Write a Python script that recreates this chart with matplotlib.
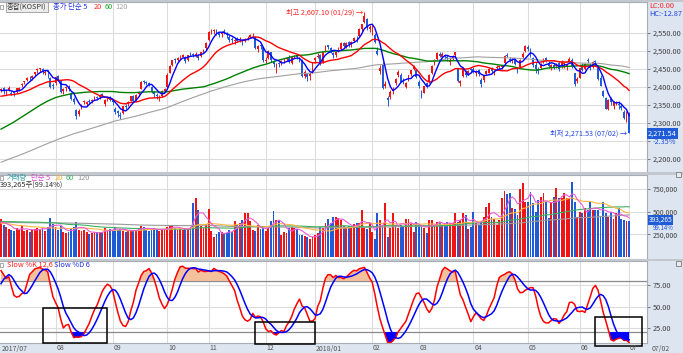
import numpy as np
import pandas as pd
import matplotlib
matplotlib.use("Agg")
import matplotlib.pyplot as plt
from matplotlib.patches import Rectangle

plt.rcParams["font.family"] = ["Noto Sans CJK KR", "DejaVu Sans"]

# KOSPI 2017/01 - 2017/06, only used to warm up the averages / stochastic
hist_close = [
    2026, 2043, 2045, 2042, 2049, 2048, 2045, 2075, 2087, 2076, 2064, 2071, 2072, 2069, 2065, 2064, 2074, 2083, 2083, 2067,
    2081, 2077, 2073, 2065, 2070, 2075, 2068, 2074, 2077, 2081, 2074, 2080, 2080, 2089, 2102, 2107, 2107, 2094, 2085, 2091,
    2102, 2078, 2078, 2094, 2095, 2092, 2097, 2117, 2133, 2133, 2150, 2164, 2157, 2178, 2168, 2168, 2168, 2154, 2166, 2165, 2166, 2160,
    2167, 2160, 2160, 2152, 2135, 2133, 2123, 2131, 2134, 2134, 2145, 2150, 2148, 2163, 2165, 2175, 2196, 2207, 2209, 2205,
    2219, 2241, 2292, 2270, 2296, 2286, 2296, 2295, 2293, 2287, 2288, 2304, 2311, 2317, 2342, 2355, 2345, 2347, 2347,
    2371, 2371, 2368, 2364, 2363, 2381, 2360, 2374, 2369, 2361, 2361, 2371, 2370, 2357, 2370, 2378, 2388, 2391, 2382, 2395, 2391,
]
hist_volume = [  # thousand x 1000 shares
    380, 410, 390, 360, 350, 340, 370, 420, 400, 380, 360, 350, 330, 360, 340, 320, 340, 360, 350, 330,
    360, 380, 350, 330, 340, 360, 350, 370, 340, 330, 350, 360, 340, 380, 420, 400, 380, 360, 350, 340,
    380, 400, 360, 350, 370, 360, 380, 420, 450, 430, 460, 480, 420, 440, 400, 390, 380, 370, 390, 380, 360, 370,
    380, 360, 350, 340, 330, 360, 380, 390, 350, 340, 320, 310, 330, 340, 320, 350, 420, 440, 400, 380,
    420, 460, 520, 500, 480, 460, 440, 420, 400, 410, 380, 400, 420, 430, 480, 520, 450, 430, 420,
    410, 390, 380, 370, 360, 420, 400, 390, 370, 360, 350, 360, 370, 350, 340, 330, 360, 380, 370, 390, 360,
]

# 2017/07/03 - 2018/07/02 daily candles
opens = [
    2392, 2396, 2388, 2393, 2384, 2385, 2386, 2392, 2406, 2415, 2420, 2426, 2426, 2435, 2446, 2451, 2451, 2438, 2445, 2425, 2404,
    2410, 2430, 2418, 2390, 2396, 2400, 2383, 2368, 2336, 2325, 2345, 2358, 2352, 2362, 2360, 2370, 2372, 2372, 2380, 2352, 2366, 2372,
    2364, 2340, 2332, 2322, 2328, 2348, 2352, 2362, 2376, 2364, 2380, 2395, 2416, 2414, 2410, 2400, 2385, 2378, 2370, 2376, 2390,
    2400, 2440, 2462, 2478, 2476, 2482, 2484, 2482, 2476, 2492, 2492, 2490, 2488, 2486, 2500, 2508,
    2530, 2555, 2556, 2558, 2550, 2546, 2555, 2550, 2540, 2534, 2528, 2532, 2530, 2530, 2528, 2536, 2540, 2544, 2540, 2506, 2516, 2510,
    2472, 2480, 2496, 2470, 2460, 2466, 2468, 2474, 2478, 2482, 2468, 2484, 2488, 2480, 2476, 2430, 2436, 2430, 2442,
    2474, 2484, 2490, 2470, 2500, 2516, 2508, 2495, 2490, 2500, 2506, 2522, 2512, 2524, 2520, 2528, 2540, 2542, 2560, 2580, 2590, 2560,
    2568, 2545, 2500, 2445, 2464, 2404, 2370, 2372, 2392, 2410, 2432, 2434, 2418, 2400, 2420, 2436, 2450, 2446,
    2415, 2385, 2384, 2410, 2414, 2440, 2465, 2478, 2492, 2484, 2488, 2484, 2470, 2480, 2488, 2450, 2410, 2430, 2440, 2440, 2450,
    2450, 2440, 2446, 2420, 2420, 2436, 2440, 2452, 2440, 2452, 2456, 2456, 2466, 2490, 2478, 2472, 2476, 2450, 2456, 2484, 2500,
    2512, 2504, 2480, 2462, 2450, 2454, 2470, 2480, 2468, 2456, 2462, 2458, 2466, 2456, 2464, 2456, 2470, 2476, 2438, 2418,
    2426, 2460, 2450, 2474, 2462, 2456, 2472, 2452, 2426, 2390, 2370, 2340, 2366, 2348, 2356, 2354, 2346, 2330, 2306,
    2328,
]
highs = [
    2398, 2400, 2392, 2402, 2390, 2388, 2398, 2400, 2412, 2418, 2428, 2430, 2432, 2443, 2452, 2454, 2453, 2446, 2447, 2428, 2410,
    2430, 2434, 2420, 2398, 2402, 2405, 2387, 2372, 2340, 2340, 2352, 2365, 2362, 2366, 2368, 2375, 2376, 2380, 2384, 2366, 2372, 2374,
    2368, 2345, 2336, 2330, 2348, 2352, 2362, 2376, 2378, 2380, 2388, 2416, 2420, 2418, 2414, 2404, 2390, 2384, 2378, 2392, 2398,
    2438, 2460, 2476, 2480, 2484, 2488, 2492, 2486, 2490, 2496, 2494, 2496, 2490, 2498, 2506, 2526,
    2555, 2562, 2560, 2562, 2554, 2556, 2562, 2552, 2544, 2538, 2536, 2540, 2538, 2534, 2536, 2542, 2548, 2550, 2542, 2518, 2520, 2512,
    2484, 2504, 2498, 2474, 2468, 2470, 2476, 2480, 2484, 2488, 2484, 2490, 2492, 2484, 2478, 2446, 2440, 2442, 2470,
    2482, 2494, 2492, 2498, 2516, 2518, 2512, 2498, 2498, 2510, 2524, 2526, 2524, 2528, 2528, 2538, 2542, 2564, 2576, 2607.10, 2592, 2572,
    2572, 2550, 2510, 2460, 2470, 2418, 2375, 2392, 2400, 2424, 2446, 2438, 2424, 2414, 2434, 2448, 2460, 2450,
    2420, 2392, 2404, 2414, 2436, 2460, 2478, 2496, 2496, 2496, 2492, 2488, 2480, 2490, 2498, 2454, 2420, 2456, 2446, 2448, 2452,
    2456, 2446, 2450, 2424, 2432, 2448, 2454, 2456, 2448, 2460, 2462, 2462, 2488, 2494, 2484, 2480, 2478, 2456, 2478, 2496, 2518,
    2518, 2508, 2484, 2470, 2456, 2466, 2480, 2484, 2472, 2464, 2466, 2466, 2472, 2474, 2470, 2464, 2482, 2480, 2440, 2428,
    2454, 2466, 2466, 2480, 2466, 2472, 2474, 2456, 2432, 2392, 2372, 2366, 2372, 2362, 2362, 2360, 2352, 2336, 2332,
    2330,
]
lows = [
    2385, 2380, 2378, 2388, 2377, 2375, 2384, 2388, 2400, 2408, 2418, 2420, 2420, 2430, 2440, 2442, 2436, 2434, 2425, 2398, 2394,
    2405, 2418, 2384, 2380, 2390, 2390, 2365, 2352, 2310, 2320, 2340, 2352, 2348, 2352, 2356, 2364, 2364, 2366, 2372, 2346, 2360, 2360,
    2350, 2325, 2318, 2311, 2326, 2338, 2348, 2360, 2358, 2360, 2374, 2394, 2408, 2405, 2402, 2384, 2372, 2368, 2362, 2372, 2386,
    2398, 2438, 2458, 2468, 2470, 2476, 2482, 2468, 2472, 2486, 2484, 2484, 2476, 2482, 2494, 2504,
    2528, 2548, 2546, 2545, 2540, 2540, 2548, 2536, 2526, 2522, 2520, 2526, 2526, 2518, 2524, 2530, 2538, 2538, 2506, 2498, 2505, 2470,
    2466, 2478, 2470, 2455, 2440, 2456, 2462, 2468, 2472, 2466, 2464, 2480, 2478, 2470, 2428, 2426, 2418, 2420, 2440,
    2468, 2480, 2462, 2468, 2498, 2505, 2495, 2480, 2484, 2496, 2504, 2512, 2508, 2512, 2512, 2524, 2526, 2540, 2556, 2578, 2558, 2552,
    2545, 2522, 2488, 2436, 2394, 2396, 2346, 2366, 2380, 2405, 2428, 2414, 2408, 2396, 2416, 2430, 2448, 2426,
    2398, 2370, 2382, 2396, 2410, 2436, 2460, 2474, 2482, 2480, 2478, 2472, 2462, 2476, 2484, 2414, 2404, 2428, 2428, 2434, 2440,
    2440, 2430, 2430, 2400, 2414, 2432, 2438, 2440, 2432, 2448, 2448, 2450, 2464, 2482, 2470, 2466, 2460, 2440, 2454, 2480, 2496,
    2500, 2484, 2456, 2440, 2436, 2450, 2466, 2470, 2452, 2448, 2450, 2454, 2444, 2454, 2454, 2448, 2466, 2454, 2404, 2410,
    2424, 2444, 2446, 2466, 2446, 2452, 2460, 2420, 2402, 2372, 2338, 2336, 2350, 2340, 2350, 2340, 2336, 2310, 2304,
    2271.53,
]
closes = [
    2394, 2388, 2388, 2396, 2380, 2382, 2396, 2396, 2409, 2415, 2425, 2425, 2430, 2442, 2450, 2452, 2441, 2443, 2443, 2401, 2403,
    2428, 2422, 2387, 2395, 2399, 2395, 2368, 2359, 2320, 2334, 2348, 2362, 2358, 2358, 2365, 2371, 2370, 2379, 2375, 2365, 2370, 2363,
    2358, 2330, 2327, 2320, 2346, 2344, 2359, 2374, 2360, 2378, 2386, 2415, 2413, 2412, 2407, 2389, 2380, 2374, 2373, 2389, 2394,
    2434, 2458, 2475, 2474, 2480, 2484, 2490, 2472, 2489, 2490, 2490, 2493, 2481, 2497, 2502, 2523,
    2553, 2556, 2558, 2549, 2545, 2552, 2551, 2543, 2530, 2530, 2531, 2528, 2534, 2527, 2533, 2537, 2544, 2545, 2508, 2514, 2513, 2476,
    2475, 2501, 2474, 2464, 2462, 2464, 2471, 2475, 2481, 2469, 2482, 2487, 2482, 2479, 2430, 2441, 2427, 2437, 2467,
    2480, 2486, 2466, 2498, 2513, 2510, 2500, 2488, 2496, 2504, 2522, 2515, 2522, 2520, 2525, 2537, 2538, 2562, 2575, 2598, 2563, 2566,
    2569, 2525, 2492, 2453, 2397, 2408, 2364, 2385, 2395, 2422, 2443, 2415, 2414, 2410, 2433, 2446, 2456, 2427,
    2402, 2375, 2402, 2404, 2433, 2459, 2475, 2494, 2486, 2493, 2486, 2480, 2476, 2485, 2496, 2417, 2416, 2454, 2434, 2444, 2446,
    2444, 2442, 2437, 2408, 2430, 2444, 2451, 2444, 2442, 2455, 2456, 2457, 2487, 2486, 2476, 2474, 2464, 2449, 2476, 2492, 2515,
    2506, 2487, 2461, 2450, 2444, 2464, 2478, 2476, 2459, 2460, 2455, 2461, 2451, 2471, 2467, 2461, 2479, 2457, 2409, 2423,
    2452, 2448, 2464, 2471, 2452, 2470, 2469, 2423, 2404, 2376, 2340, 2364, 2357, 2358, 2357, 2350, 2342, 2314, 2326.13,
    2271.54,
]
volume = [  # thousand x 1000 shares
    418, 352, 330, 310, 300, 290, 320, 300, 340, 290, 300, 280, 300, 310, 320, 300, 330, 290, 330, 430, 360,
    330, 300, 340, 280, 260, 270, 320, 330, 390, 300, 290, 300, 270, 250, 260, 280, 270, 280, 260, 320, 300, 310,
    290, 330, 300, 310, 290, 280, 290, 300, 290, 300, 310, 340, 330, 300, 290, 310, 320, 300, 290, 310, 300,
    330, 340, 350, 320, 300, 310, 300, 320, 310, 330, 594, 650, 517, 341, 319, 363,
    528, 286, 220, 253, 275, 275, 264, 264, 297, 275, 396, 352, 374, 407, 484, 484, 396, 297, 286, 352, 308, 341,
    286, 319, 396, 506, 407, 407, 242, 275, 264, 319, 330, 319, 308, 242, 242, 231, 220, 198, 220,
    242, 264, 330, 319, 374, 418, 374, 440, 440, 430, 407, 341, 330, 341, 330, 363, 374, 374, 517, 319, 308, 374,
    275, 198, 484, 407, 330, 594, 220, 319, 484, 352, 319, 352, 330, 418, 418, 374, 275, 385,
    352, 330, 319, 264, 407, 407, 352, 385, 385, 352, 363, 385, 374, 374, 484, 385, 407, 484, 462, 308, 330,
    495, 374, 352, 385, 440, 550, 594, 440, 418, 352, 407, 650, 727, 690, 705, 540, 528, 462, 749, 815, 606,
    606, 716, 594, 495, 628, 661, 705, 606, 430, 594, 661, 760, 650, 650, 705, 650, 650, 826, 606, 440,
    495, 484, 540, 517, 606, 520, 517, 517, 440, 606, 484, 440, 495, 418, 484, 540, 418, 407, 396.676,
    393.265,
]

month_start = [0, 21, 43, 64, 80, 102, 121, 143, 161, 182, 203, 223, 242]
month_labels = ["2017/07", "08", "09", "10", "11", "12", "2018/01", "02", "03", "04", "05", "06", "07"]
high_date = "01/29"
low_date = "07/02"
last_date = "07/02"
# hand-drawn highlight boxes on the stochastic panel (x0, x1, y0, y1)
boxes = [(16, 41, 7, 48), (98, 121, 6, 32), (229, 247, 4, 38)]

RED, BLUE = "#f01414", "#1f5bd6"
W, H = 683, 353

o, h, l, c = (np.array(a, float) for a in (opens, highs, lows, closes))
v = np.array(volume, float) * 1000
n = len(c)
assert len(o) == len(h) == len(l) == len(v) == n
x = np.arange(n)

cs = pd.Series(hist_close + closes, dtype=float)
price_ma = {p: cs.rolling(p).mean().to_numpy()[-n:] for p in (5, 20, 60, 120)}
vs = pd.Series(hist_volume + volume, dtype=float) * 1000
vol_ma = {p: vs.rolling(p).mean().to_numpy()[-n:] for p in (5, 20, 60, 120)}

hs = pd.Series(hist_close + highs, dtype=float)
ls = pd.Series(hist_close + lows, dtype=float)
ll, hh = ls.rolling(12).min(), hs.rolling(12).max()
fast_k = (cs - ll) / (hh - ll) * 100
slow_k = fast_k.rolling(6).mean()
slow_d = slow_k.rolling(6).mean()
k = slow_k.to_numpy()[-n:]
d = slow_d.to_numpy()[-n:]

fig = plt.figure(figsize=(W / 100, H / 100), dpi=100, facecolor="#dce5f0")


def px_axes(x0, y0, x1, y1):
    return fig.add_axes([x0 / W, 1 - y1 / H, (x1 - x0) / W, (y1 - y0) / H])


def ptext(px, py, s, **kw):
    kw.setdefault("fontsize", 5.3)
    return fig.text(px / W, 1 - py / H, s, va="center", ha="left", **kw)


# gray separators
for y0, y1 in [(0, 2), (172, 175), (259, 261)]:
    fig.patches.append(Rectangle((0, 1 - y1 / H), 1, (y1 - y0) / H, transform=fig.transFigure,
                                 fc="#c3c8cf", ec="none", zorder=0))

ax1 = px_axes(0, 2, 647, 172)
ax2 = px_axes(0, 175, 647, 259)
ax3 = px_axes(0, 261, 647, 343)

xlim = (-0.4, 248.9)
for ax in (ax1, ax2, ax3):
    ax.set_xlim(*xlim)
    ax.set_facecolor("white")
    ax.set_axisbelow(True)
    ax.set_xticks(month_start[1:])
    ax.tick_params(axis="x", length=0, labelbottom=False)
    ax.grid(True, color="#dcdcdc", lw=0.8)
    ax.yaxis.tick_right()
    ax.tick_params(axis="y", length=2.5, width=0.6, color="#666666", labelsize=5.3,
                   labelcolor="#404040", pad=1.5)
    for sp in ax.spines.values():
        sp.set_color("#a8adb5")
        sp.set_linewidth(0.8)
    ax.spines["left"].set_visible(False)

# price panel
col = np.where(c >= o, RED, BLUE)
ax1.vlines(x, l, h, colors=col, lw=0.7, zorder=2)
ax1.bar(x, np.maximum(np.abs(c - o), 1.2), bottom=np.minimum(o, c), width=0.72,
        color=col, lw=0, zorder=2)
ma_cols = {5: "#0000ff", 20: "#ff0000", 60: "#008000", 120: "#a0a0a0"}
for p in (120, 60, 20, 5):
    ax1.plot(x, price_ma[p], color=ma_cols[p], lw=1.0 if p != 120 else 0.8, zorder=3)
ax1.set_ylim(2164, 2636)
pt = list(range(2200, 2551, 50))
ax1.set_yticks(pt)
# the 2,250 label sits under the current-price tag, as in the terminal
ax1.set_yticklabels(["" if t == 2250 else f"{t:,.2f}" for t in pt])

ihi = int(np.argmax(h))
ilo = int(np.argmin(l))
ax1.text(ihi - 0.6, h[ihi], f"최고 {h[ihi]:,.2f} ({high_date}) →", color="#ff2020",
         fontsize=5.2, ha="right", va="center", zorder=4)
ax1.text(ilo - 0.6, l[ilo], f"최저 {l[ilo]:,.2f} ({low_date}) →", color="#2040e0",
         fontsize=5.2, ha="right", va="center", zorder=4)

chg = (c[-1] / c[-2] - 1) * 100
ax1.text(1.0015, c[-1], f"{c[-1]:,.2f}", transform=ax1.get_yaxis_transform(), color="white",
         fontsize=5.3, ha="left", va="center", clip_on=False, zorder=6,
         bbox=dict(boxstyle="square,pad=0.18", fc="#1f5bd6", ec="none"))
ax1.annotate(f"{chg:.2f}%", xy=(1.0, c[-1]), xycoords=ax1.get_yaxis_transform(),
             xytext=(4, -6), textcoords="offset points", color="#2050e0", fontsize=5.3,
             ha="left", va="center", annotation_clip=False)

lc = (c[-1] / l.min() - 1) * 100
hc = (c[-1] / h.max() - 1) * 100
ptext(649, 6, f"LC:{lc:.2f}", color="#ff2020")
ptext(649, 14, f"HC:{hc:.2f}", color="#2040e0")

# volume panel
ax2.bar(x, v, width=0.72, color=col, lw=0, zorder=2)
vcols = {5: "#ee5ad8", 20: "#ffb640", 60: "#3cb060", 120: "#9a9a9a"}
for p in (120, 60, 20, 5):
    ax2.plot(x, vol_ma[p], color=vcols[p], lw=0.8, zorder=3)
ax2.set_ylim(-22000, 903000)
vt = [250000, 500000, 750000]
ax2.set_yticks(vt)
ax2.set_yticklabels([f"{t:,.0f}" for t in vt])
ax2.tick_params(axis="y", labelsize=5.0)
ax2.annotate(f"{v[-1]:,.0f}", xy=(1.0, v[-1]), xycoords=ax2.get_yaxis_transform(),
             xytext=(1.2, 0.9), textcoords="offset points", color="white", fontsize=4.8,
             ha="left", va="center", annotation_clip=False, zorder=6,
             bbox=dict(boxstyle="square,pad=0.12", fc="#1f5bd6", ec="none"))
vr = v[-1] / v[-2] * 100
ax2.annotate(f"{vr:.2f}%", xy=(1.0, v[-1]), xycoords=ax2.get_yaxis_transform(),
             xytext=(4, -4.5), textcoords="offset points", color="#2050e0", fontsize=4.4,
             ha="left", va="center", annotation_clip=False)

# stochastic panel
ax3.fill_between(x, k, 80, where=k >= 80, interpolate=True, color="#f5c09c", lw=0, zorder=2)
ax3.fill_between(x, k, 20, where=k <= 20, interpolate=True, color="#0000ff", lw=0, zorder=2)
ax3.axhline(80, color="#8a8a8a", lw=0.9, zorder=1)
ax3.axhline(20, color="#8a8a8a", lw=0.9, zorder=1)
ax3.plot(x, k, color="#ff0000", lw=1.1, zorder=3)
ax3.plot(x, d, color="#0000ff", lw=1.1, zorder=3)
ax3.set_ylim(7.1, 103.5)
st = [25, 50, 75]
ax3.set_yticks(st)
ax3.set_yticklabels([f"{t:.2f}" for t in st])
for x0, x1, y0, y1 in boxes:
    ax3.add_patch(Rectangle((x0, y0), x1 - x0, y1 - y0, fill=False, ec="black", lw=1.1,
                            clip_on=False, zorder=5))

# month labels on the bottom strip
for i, lab in zip(month_start, month_labels):
    ptext(1 + i * 628 / 242 + 1, 348.5, lab, color="#555555", fontsize=5.0)
ptext(652, 348.5, last_date, color="#555555", fontsize=5.0)

# panel headers
for py in (7, 178, 265):
    fig.patches.append(Rectangle((0.3 / W, 1 - (py + 2) / H), 3 / W, 4 / H,
                                 transform=fig.transFigure, fc="white", ec="#888888", lw=0.5))
ptext(7, 7, "종합(KOSPI)", color="#333333",
      bbox=dict(boxstyle="square,pad=0.2", fc="#ececec", ec="#9a9a9a", lw=0.6))
ptext(53, 7, "종가 단순 5", color="#2030e0")
ptext(94, 7, "20", color="#ff2020")
ptext(105, 7, "60", color="#20a020")
ptext(115, 7, "120", color="#a0a0a0")

ptext(7, 178, "거래량", color="#30a0a8")
ptext(31, 178, "단순 5", color="#e040d0")
ptext(55, 178, "20", color="#f0b030")
ptext(66, 178, "60", color="#40b060")
ptext(77, 178, "120", color="#909090")
ptext(0, 186, f"{v[-1]:,.0f}주({vr:.2f}%)", color="#333333")

ptext(7, 265, "Slow %K 12,6", color="#ff2020")
ptext(54, 265, "Slow %D 6", color="#2030e0")

for py in (172, 261):
    fig.patches.append(Rectangle((676 / W, 1 - (py + 5) / H), 5 / W, 5 / H,
                                 transform=fig.transFigure, fc="#e8ecf2", ec="#666666", lw=0.5))

fig.savefig("out.png", dpi=100, facecolor=fig.get_facecolor())
